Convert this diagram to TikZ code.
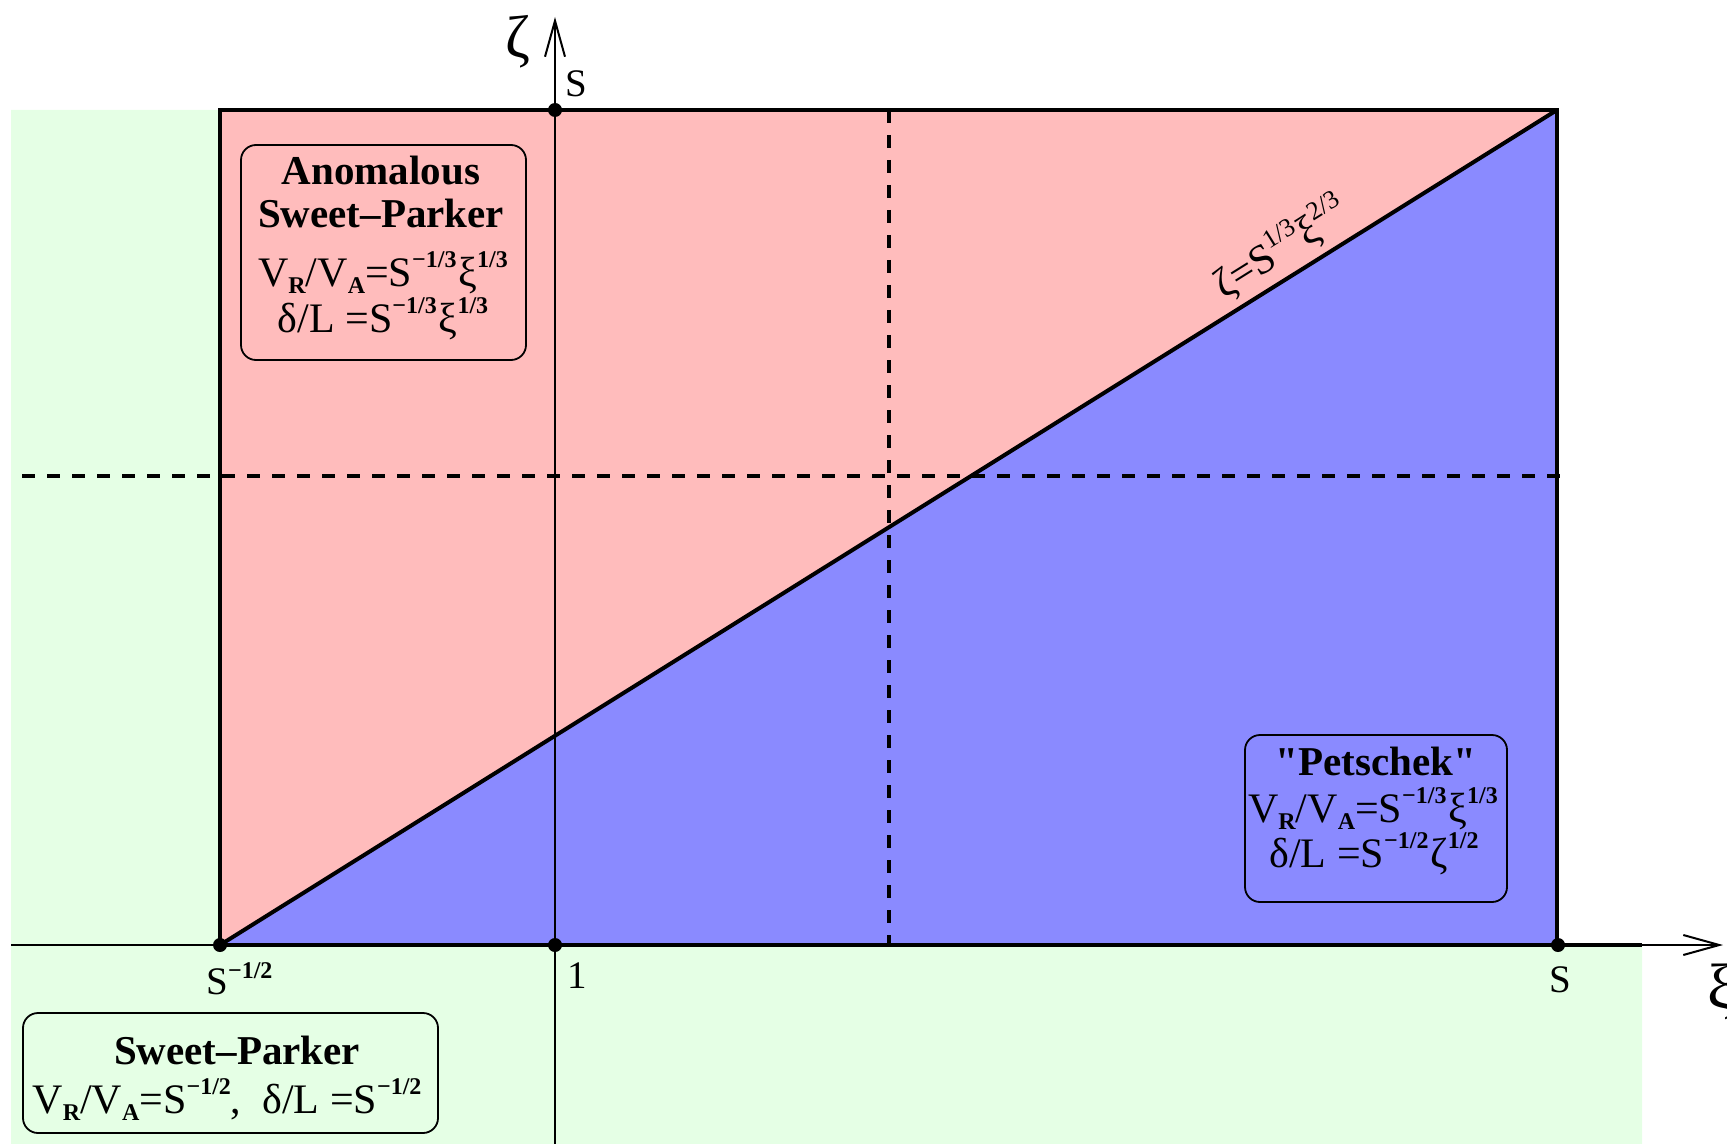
\documentclass[tikz,border=0pt]{standalone}
\usepackage{fontspec}
\setmainfont{Liberation Serif}[Ligatures=TeXOff]
\usetikzlibrary{arrows.meta}
\definecolor{pinkreg}{RGB}{255,188,188}
\definecolor{bluereg}{RGB}{138,138,255}
\definecolor{greenreg}{RGB}{229,255,229}
\newcommand\fmain{\fontsize{21}{25}\selectfont}
\newcommand\ftitle{\fontsize{20.5}{24}\selectfont\bfseries}
\newcommand\flab{\fontsize{19.5}{23}\selectfont}
\newcommand\mysb[1]{\raisebox{-3.5pt}{\fontsize{12}{13}\selectfont\bfseries #1}}
\newcommand\mysp[1]{\raisebox{9.5pt}{\fontsize{12}{13}\selectfont\bfseries #1}}
\newcommand\lbsp[1]{\raisebox{8pt}{\fontsize{12}{13}\selectfont\bfseries #1}}
\newcommand\dgsp[1]{\raisebox{9.5pt}{\fontsize{13}{14}\selectfont #1}}
\tikzset{
  thickln/.style={line width=2pt},
  axisln/.style={line width=1pt,-{Straight Barb[length=18pt,width=10pt]}},
  dashln/.style={line width=1.9pt,dash pattern=on 6.3pt off 6.2pt},
  dotnode/.style={circle,fill=black,inner sep=0pt,minimum size=7pt},
  txt/.style={inner sep=0pt,anchor=base},
  regbox/.style={draw=black,line width=0.9pt,rounded corners=7.5pt,inner sep=0pt}
}
\begin{document}
\begin{tikzpicture}[x=0.5pt,y=-0.5pt]
\useasboundingbox (0,0) rectangle (1727,1144);
% corners
\coordinate (tl) at (220,110);
\coordinate (tr) at (1557,110);
\coordinate (bl) at (220,945);
\coordinate (br) at (1557,945);
% regions
\fill[greenreg] (11,110) -| (220,945) -| (1642,1144) -| cycle;
\fill[pinkreg] (tl) rectangle (br);
\fill[bluereg] (bl) -- (br) -- (tr) -- cycle;
% dashed lines
\coordinate (hd1) at (22,476);
\coordinate (hd2) at (1564,476);
\coordinate (vd1) at (889,110);
\coordinate (vd2) at (889,945);
\draw[dashln] (hd1) -- (hd2);
\draw[dashln] (vd1) -- (vd2);
% axes
\coordinate (xa0) at (11,945);
\coordinate (xa1) at (1723,945);
\coordinate (ya0) at (555,1144);
\coordinate (ya1) at (555,17);
\draw[axisln] (xa0) -- (xa1);
\draw[axisln] (ya0) -- (ya1);
% rectangle borders
\coordinate (axend) at (1642,945);
\draw[thickln] (bl) -- (tl) -- (tr) -- (br);
\draw[thickln] (bl) -- (axend);
\draw[thickln] (bl) -- node[sloped,anchor=south,pos=0.805,inner sep=3pt]{\fontsize{21}{24}\selectfont ζ=S\dgsp{1/3}ξ\dgsp{2/3}} (tr);
% dots
\node[dotnode] (d1) at (220,945) {};
\node[dotnode] (d2) at (555,945) {};
\node[dotnode] (d3) at (1558,945) {};
\node[dotnode] (d4) at (555,110) {};
% axis labels
\node[txt,anchor=base west] (lsm) at (206,994) {\flab S\lbsp{−1/2}};
\node[txt] (lone) at (577,988) {\flab 1};
\node[txt] (lsr) at (1560,992) {\flab S};
\node[txt] (lst) at (576,97) {\flab S};
\node[inner sep=0pt] (lzeta) at (518,42) {\fontsize{30}{34}\selectfont ζ};
\node[inner sep=0pt,anchor=west] (lxi) at (1707,992) {\fontsize{32}{36}\selectfont ξ};
% boxes
\node[regbox,minimum width=142.5pt,minimum height=107.5pt] (boxa) at (383.5,252.5) {};
\node[txt] (a1) at (381,185) {\ftitle Anomalous};
\node[txt] (a2) at (381,228) {\ftitle Sweet–Parker};
\node[txt] (a3) at (383,287) {\fmain V\mysb{R}/V\mysb{A}=S\mysp{−1/3}\kern1ptξ\mysp{1/3}};
\node[txt] (a4) at (383,333) {\fmain δ/L =S\mysp{−1/3}\kern1ptξ\mysp{1/3}};
\node[regbox,minimum width=131pt,minimum height=83.5pt] (boxp) at (1376,818.5) {};
\node[txt] (p1) at (1376,775) {\ftitle "Petschek"};
\node[txt] (p2) at (1373,822) {\fmain V\mysb{R}/V\mysb{A}=S\mysp{−1/3}\kern1ptξ\mysp{1/3}};
\node[txt] (p3) at (1374,867) {\fmain δ/L =S\mysp{−1/2}\kern1ptζ\mysp{1/2}};
\node[regbox,minimum width=207.5pt,minimum height=60pt] (boxs) at (230.5,1073) {};
\node[txt] (s1) at (237,1064) {\ftitle Sweet–Parker};
\node[txt] (s2) at (227,1113) {\fmain V\mysb{R}/V\mysb{A}=S\mysp{−1/2}, \ δ/L =S\mysp{−1/2}};
\end{tikzpicture}
\end{document}
